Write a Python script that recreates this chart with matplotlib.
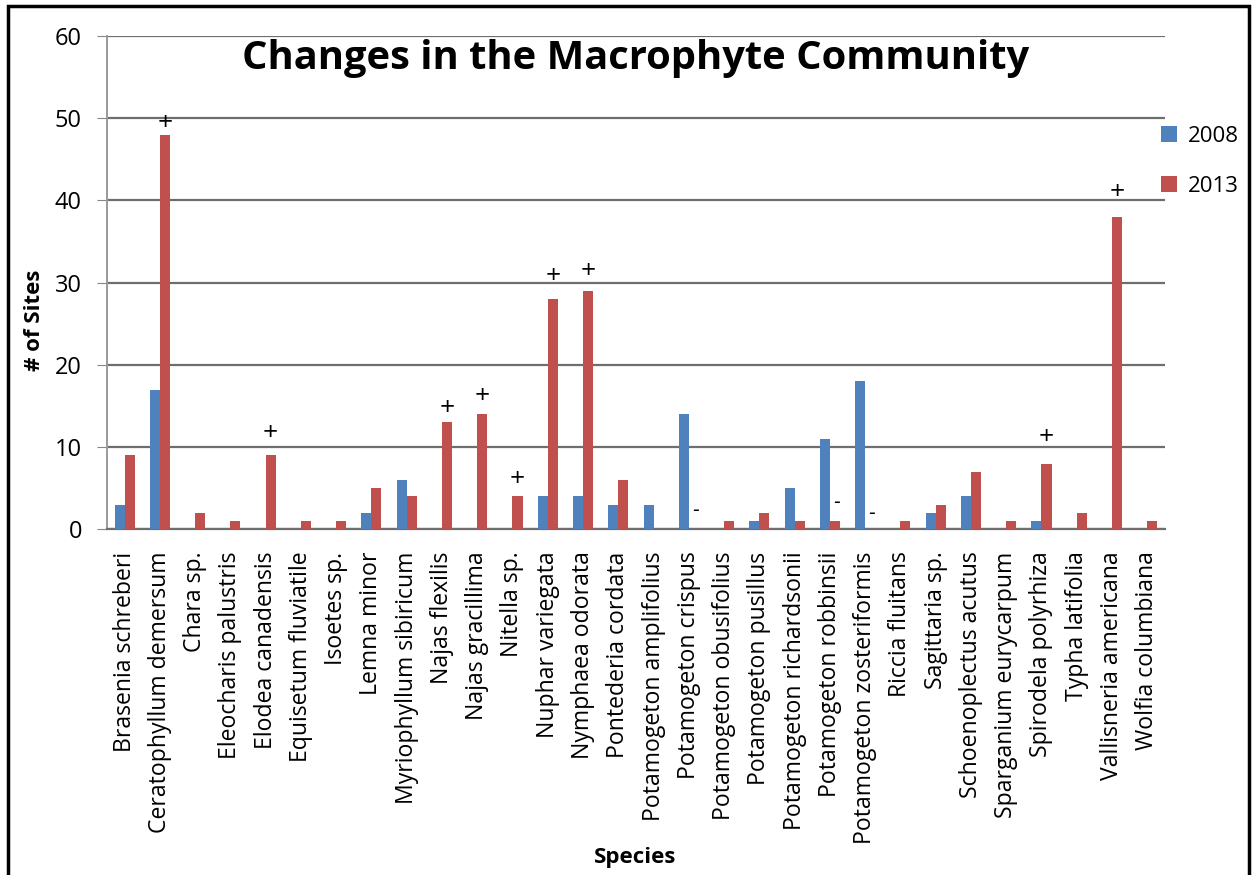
import numpy as np
import matplotlib
matplotlib.use("Agg")
import matplotlib.pyplot as plt
from matplotlib.patches import Rectangle

plt.rcParams['font.family'] = ['Open Sans', 'DejaVu Sans']

especies = ["Brasenia schreberi", "Ceratophyllum demersum", "Chara sp.",
            "Eleocharis palustris", "Elodea canadensis", "Equisetum fluviatile",
            "Isoetes sp.", "Lemna minor", "Myriophyllum sibiricum", "Najas flexilis",
            "Najas gracillima", "Nitella sp.", "Nuphar variegata", "Nymphaea odorata",
            "Pontederia cordata", "Potamogeton amplifolius", "Potamogeton crispus",
            "Potamogeton obusifolius", "Potamogeton pusillus", "Potamogeton richardsonii",
            "Potamogeton robbinsii", "Potamogeton zosteriformis", "Riccia fluitans",
            "Sagittaria sp.", "Schoenoplectus acutus", "Sparganium eurycarpum",
            "Spirodela polyrhiza", "Typha latifolia", "Vallisneria americana",
            "Wolfia columbiana"]

sites_2008 = [3, 17, 0, 0, 0, 0, 0, 2, 6, 0, 0, 0, 4, 4, 3, 3, 14, 0, 1, 5,
              11, 18, 0, 2, 4, 0, 1, 0, 0, 0]
sites_2013 = [9, 48, 2, 1, 9, 1, 1, 5, 4, 13, 14, 4, 28, 29, 6, 0, 0, 1, 2, 1,
              1, 0, 1, 3, 7, 1, 8, 2, 38, 1]

# znaki zmian (gatunek, znak, wysokosc)
zmiany_gatunki = ["Ceratophyllum demersum", "Elodea canadensis", "Najas flexilis",
                  "Najas gracillima", "Nitella sp.", "Nuphar variegata",
                  "Nymphaea odorata", "Spirodela polyrhiza", "Vallisneria americana",
                  "Potamogeton crispus", "Potamogeton robbinsii",
                  "Potamogeton zosteriformis"]
zmiany_znaki = ["+", "+", "+", "+", "+", "+", "+", "+", "+", "-", "-", "-"]
zmiany_y = [49.3, 11.7, 14.7, 16.1, 6.1, 30.7, 31.4, 11.2, 41.0, 2.3, 3.3, 1.9]

niebieski = "#4F81BD"
czerwony = "#C0504D"

fig = plt.figure(figsize=(12.58, 8.75), dpi=100)
ax = fig.add_axes([0.085, 0.395, 0.841, 0.564])

x = np.arange(len(especies))
w = 0.285
ax.bar(x - w / 2, sites_2008, w, color=niebieski, label="2008", zorder=3)
ax.bar(x + w / 2, sites_2013, w, color=czerwony, label="2013", zorder=3)

for gat, znak, yy in zip(zmiany_gatunki, zmiany_znaki, zmiany_y):
    i = especies.index(gat)
    ax.text(i + w / 2 + (0.05 if znak == "-" else 0), yy, znak,
            ha="center", va="center", fontsize=19 if znak == "+" else 15,
            color="black", zorder=4)

ax.set_xlim(-0.5, len(especies) - 0.5)
ax.set_ylim(0, 60)
ax.set_yticks(range(0, 61, 10))
ax.tick_params(axis="y", labelsize=17, length=7, color="#868686", pad=11)
ax.tick_params(axis="x", length=0, pad=16)
ax.set_xticks(x)
ax.set_xticklabels(especies, rotation=90, fontsize=16.6, va="top", ha="center")
ax.grid(axis="y", color="#6e6e6e", linewidth=1.6, zorder=0)
for s in ["top", "right"]:
    ax.spines[s].set_visible(False)
ax.spines["left"].set_color("#9a9a9a")
ax.spines["left"].set_linewidth(1.4)
ax.spines["bottom"].set_color("#6e6e6e")
ax.spines["bottom"].set_linewidth(1.6)

ax.set_ylabel("# of Sites", fontsize=16, fontweight="bold")
ax.yaxis.set_label_coords(-0.059, 0.424)
fig.text(0.505, 0.02, "Species", fontsize=16, fontweight="bold", ha="center", va="center")

ax.text(0.5, 0.955, "Changes in the Macrophyte Community", transform=ax.transAxes,
        ha="center", va="center", fontsize=28.7, fontweight="bold", zorder=5)

fig.legend(loc="upper left", bbox_to_anchor=(0.907, 0.879), frameon=False,
           fontsize=16, handlelength=0.7, handleheight=0.7, labelspacing=1.3,
           handletextpad=0.5)

fig.patches.append(Rectangle((0.0065, -0.05), 0.986, 1.043, transform=fig.transFigure,
                             fill=False, edgecolor="black", linewidth=2.5))

fig.savefig("out.png", dpi=100)
